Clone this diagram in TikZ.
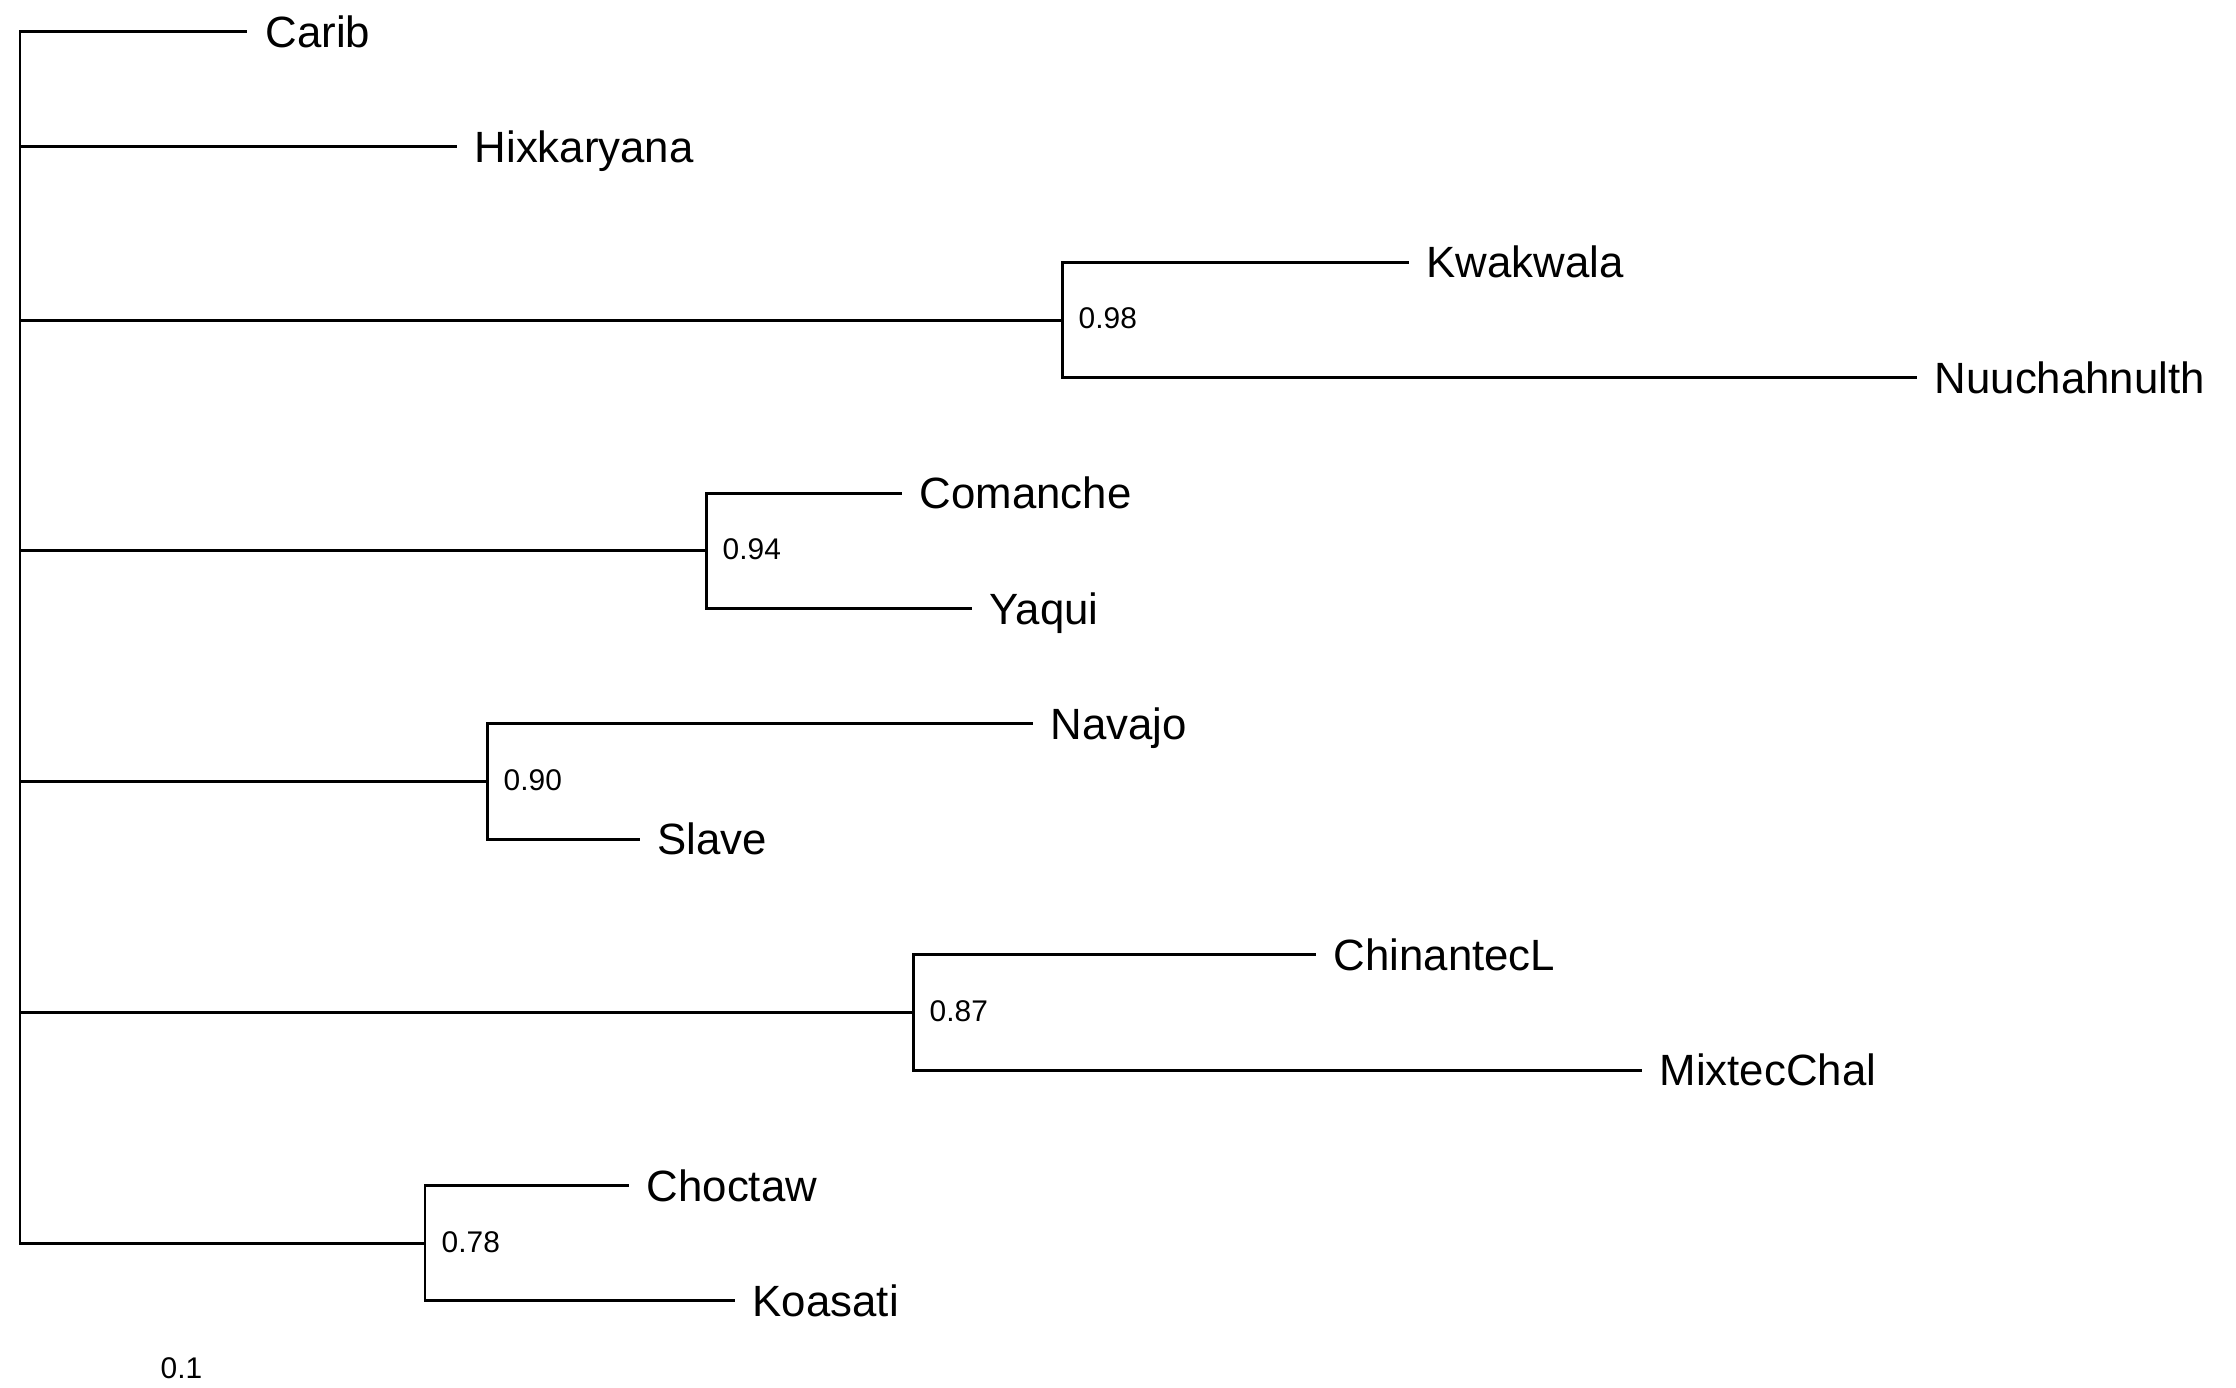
\documentclass[tikz,border=0pt]{standalone}
\usepackage{fontspec}
\setmainfont{Liberation Sans}
\begin{document}
\begin{tikzpicture}[x=0.01cm,y=-0.01cm,
  branch/.style={line width=0.85pt, line join=miter, line cap=rect},
  leaf/.style={anchor=base west, inner sep=0pt, xshift=0.19cm, yshift=-4.45pt, font=\fontsize{12.45}{14}\selectfont},
  support/.style={anchor=base west, inner sep=0pt, xshift=0.16cm, yshift=-2.5pt, font=\fontsize{8.5}{10}\selectfont}]
\useasboundingbox (0,0) rectangle (2236,1387);
% root
\coordinate (rTop) at (20,31.5);
\coordinate (rBot) at (20,1243.2);
\coordinate (rHx) at (20,146.9);
\coordinate (rKw) at (20,320);
\coordinate (rCo) at (20,550.8);
\coordinate (rNa) at (20,781.6);
\coordinate (rCh) at (20,1012.4);
% tips
\coordinate (tCarib) at (246,31.5);
\coordinate (tHix) at (455,146.9);
\coordinate (tKwak) at (1407,262.3);
\coordinate (tNuu) at (1915,377.7);
\coordinate (tCom) at (900,493.1);
\coordinate (tYaq) at (970,608.5);
\coordinate (tNav) at (1031,723.9);
\coordinate (tSla) at (638,839.3);
\coordinate (tChin) at (1314,954.7);
\coordinate (tMix) at (1640,1070.1);
\coordinate (tChoc) at (627,1185.5);
\coordinate (tKoa) at (733,1300.9);
% clade corners
\coordinate (kwM) at (1062,320);  \coordinate (kwT) at (1062,262.3); \coordinate (kwB) at (1062,377.7);
\coordinate (coM) at (706,550.8); \coordinate (coT) at (706,493.1);  \coordinate (coB) at (706,608.5);
\coordinate (naM) at (487,781.6); \coordinate (naT) at (487,723.9);  \coordinate (naB) at (487,839.3);
\coordinate (chM) at (913,1012.4); \coordinate (chT) at (913,954.7); \coordinate (chB) at (913,1070.1);
\coordinate (ctM) at (425,1243.2); \coordinate (ctT) at (425,1185.5); \coordinate (ctB) at (425,1300.9);

% edges
\draw[branch] (tCarib) -- (rTop) -- (rBot) -- (ctM);
\draw[branch] (rHx) -- (tHix);
\draw[branch] (rKw) -- (kwM);
\draw[branch] (rCo) -- (coM);
\draw[branch] (rNa) -- (naM);
\draw[branch] (rCh) -- (chM);
\draw[branch] (tKwak) -- (kwT) -- (kwB) -- (tNuu);
\draw[branch] (tCom) -- (coT) -- (coB) -- (tYaq);
\draw[branch] (tNav) -- (naT) -- (naB) -- (tSla);
\draw[branch] (tChin) -- (chT) -- (chB) -- (tMix);
\draw[branch] (tChoc) -- (ctT) -- (ctB) -- (tKoa);

% leaf labels
\node[leaf] (lCarib) at (tCarib) {Carib};
\node[leaf] (lHix) at (tHix) {Hixkaryana};
\node[leaf] (lKwak) at (tKwak) {Kwakwala};
\node[leaf] (lNuu) at (tNuu) {Nuuchahnulth};
\node[leaf] (lCom) at (tCom) {Comanche};
\node[leaf] (lYaq) at (tYaq) {Yaqui};
\node[leaf] (lNav) at (tNav) {Navajo};
\node[leaf] (lSla) at (tSla) {Slave};
\node[leaf] (lChin) at (tChin) {ChinantecL};
\node[leaf] (lMix) at (tMix) {MixtecChal};
\node[leaf] (lChoc) at (tChoc) {Choctaw};
\node[leaf] (lKoa) at (tKoa) {Koasati};

% support values
\node[support] (sKw) at (kwM) {0.98};
\node[support] (sCo) at (coM) {0.94};
\node[support] (sNa) at (naM) {0.90};
\node[support] (sCh) at (chM) {0.87};
\node[support] (sCt) at (ctM) {0.78};

% scale
\coordinate (scaleAt) at (160,1368);
\node[anchor=base west, inner sep=0pt, yshift=-3pt, font=\fontsize{8.5}{10}\selectfont] (scale) at (scaleAt) {0.1};
\end{tikzpicture}
\end{document}
